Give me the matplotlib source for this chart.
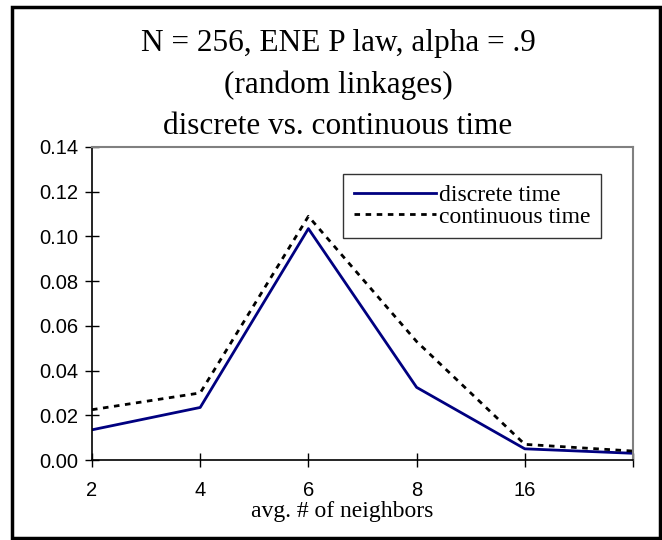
import matplotlib.pyplot as plt
from matplotlib.patches import Rectangle

# data
categories = ["2", "4", "6", "8", "16", ""]
discrete_time = [0.0135, 0.0235, 0.1035, 0.0325, 0.005, 0.003]
continuous_time = [0.0225, 0.030, 0.109, 0.053, 0.007, 0.004]
yticks = [0.00, 0.02, 0.04, 0.06, 0.08, 0.10, 0.12, 0.14]

serif = "Liberation Serif"
sans = "Liberation Sans"

fig = plt.figure(figsize=(6.62, 5.4), dpi=100)
ax = fig.add_axes([92 / 662, 1 - 460 / 540, (633 - 92) / 662, (460 - 147) / 540])

x = list(range(len(categories)))
ax.plot(x, discrete_time, color="#000080", lw=2, label="discrete time")
ax.plot(x, continuous_time, color="black", lw=2, ls=(0, (2, 2)), label="continuous time")

ax.set_xlim(0, len(categories) - 1)
ax.set_ylim(0, 0.14)
ax.set_xticks(x)
ax.set_xticklabels(categories, fontfamily=sans, fontsize=14.5)
ax.set_yticks(yticks)
ax.set_yticklabels([f"{v:.2f}" for v in yticks], fontfamily=sans, fontsize=14.5)
ax.tick_params(direction="inout", length=10, width=1, colors="black", pad=5)
ax.tick_params(axis="x", pad=10)

for s in ["top", "right"]:
    ax.spines[s].set_color("#808080")
    ax.spines[s].set_linewidth(1.5)
for s in ["left", "bottom"]:
    ax.spines[s].set_color("black")
    ax.spines[s].set_linewidth(1.2)

leg = ax.legend(loc="upper left", bbox_to_anchor=((343 - 92) / 541, 1 - (174 - 147) / 313),
                prop={"family": serif, "size": 17}, handlelength=3.5, handletextpad=0.1,
                frameon=True, fancybox=False, borderaxespad=0, borderpad=0.45,
                labelspacing=0.0)
leg.get_frame().set_edgecolor("black")
leg.get_frame().set_linewidth(1)

title_lines = ["N = 256, ENE P law, alpha = .9", "(random linkages)",
               "discrete vs. continuous time"]
for i, line in enumerate(title_lines):
    fig.text(338 / 662, 1 - (44 + 41 * i) / 540, line, ha="center", va="center",
             fontfamily=serif, fontsize=22.5)

fig.text(342 / 662, 1 - 512 / 540, "avg. # of neighbors", ha="center", va="center",
         fontfamily=serif, fontsize=17)

fig.patches.append(Rectangle((12 / 662, 2 / 540), 648 / 662, 531 / 540,
                             transform=fig.transFigure, fill=False,
                             edgecolor="black", lw=2.5))

fig.savefig("out.png", dpi=100)
